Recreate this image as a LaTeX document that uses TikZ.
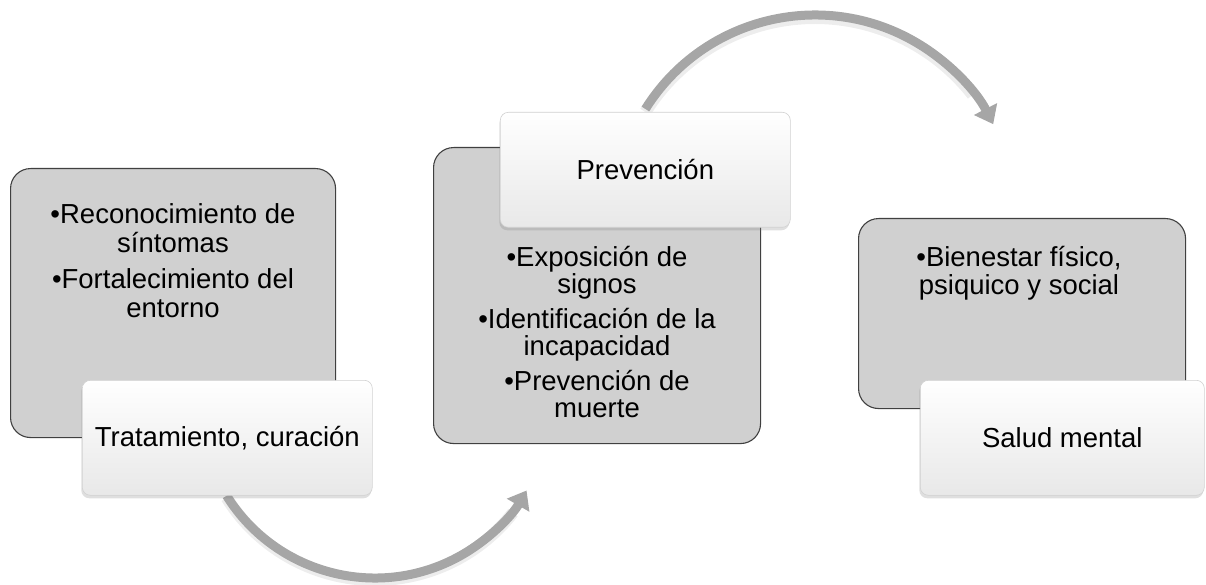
\documentclass[tikz,border=0pt]{standalone}
\usepackage{fontspec}
\setmainfont{Liberation Sans}
\usetikzlibrary{arrows.meta,shadows}
\definecolor{boxgray}{RGB}{208,208,208}
\definecolor{arrowgray}{RGB}{166,166,166}
\begin{document}
\begin{tikzpicture}[x=1pt,y=-1pt,
  graybox/.style={draw=black!75, line width=1.1pt, fill=boxgray, rounded corners=20pt, inner sep=0pt, anchor=north west},
  whitebox/.style={draw=black!18, line width=0.6pt, top color=white, bottom color=black!9, rounded corners=8pt, inner sep=0pt, anchor=north west,
     drop shadow={opacity=0.25, shadow xshift=-1pt, shadow yshift=-3pt}},
  boxfont/.style={font=\fontsize{27.5}{27}\selectfont},
  bodytext/.style={align=center, inner sep=0pt, anchor=north, boxfont},
  bigarrow/.style={draw=arrowgray, line width=9pt, -{Triangle[length=17pt,width=25pt]}},
  arrowshadow/.style={draw=black, opacity=0.07, line width=12pt}
]
\useasboundingbox (0,0) rectangle (1206,585);

% arrow centers
\coordinate (c1) at (375,403);
\coordinate (c2) at (815,215);

% arrows (drawn first, boxes cover their starts)
\draw[arrowshadow] ([shift={(0,2)}]c1) ++(148:175) arc[start angle=148, end angle=38, radius=175];
\draw[bigarrow] (c1) ++(148:175) arc[start angle=148, end angle=30, radius=175];
\draw[arrowshadow] ([shift={(0,3)}]c2) ++(212:200) arc[start angle=212, end angle=322, radius=200];
\draw[bigarrow] (c2) ++(212:200) arc[start angle=212, end angle=333, radius=200];

% gray boxes
\node[graybox, minimum width=325pt, minimum height=269pt] (g1) at (10,168) {};
\node[graybox, minimum width=327pt, minimum height=296pt] (g2) at (433,147) {};
\node[graybox, minimum width=327pt, minimum height=190pt] (g3) at (858,218) {};

% gray box texts
\node[bodytext, font=\fontsize{27.5}{29}\selectfont] (t1) at (173,203)
  {\textbullet Reconocimiento de\\síntomas\\[7pt]\textbullet Fortalecimiento del\\entorno};
\node[bodytext] (t2) at (597,246)
  {\textbullet Exposición de\\signos\\[8pt]\textbullet Identificación de la\\incapacidad\\[8pt]\textbullet Prevención de\\muerte};
\node[bodytext, font=\fontsize{27.5}{28}\selectfont] (t3) at (1019,246)
  {\textbullet Bienestar físico,\\psiquico y social};

% white boxes
\node[whitebox, minimum width=290pt, minimum height=115pt] (w1) at (82,380) {};
\node[boxfont] (w1t) at (w1.center) {Tratamiento, curación};
\node[whitebox, minimum width=290pt, minimum height=115pt] (w2) at (500,112) {};
\node[boxfont] (w2t) at (w2.center) {Prevención};
\node[whitebox, minimum width=284pt, minimum height=115pt] (w3) at (920,380) {};
\node[boxfont] (w3t) at (w3.center) {Salud mental};
\end{tikzpicture}
\end{document}
